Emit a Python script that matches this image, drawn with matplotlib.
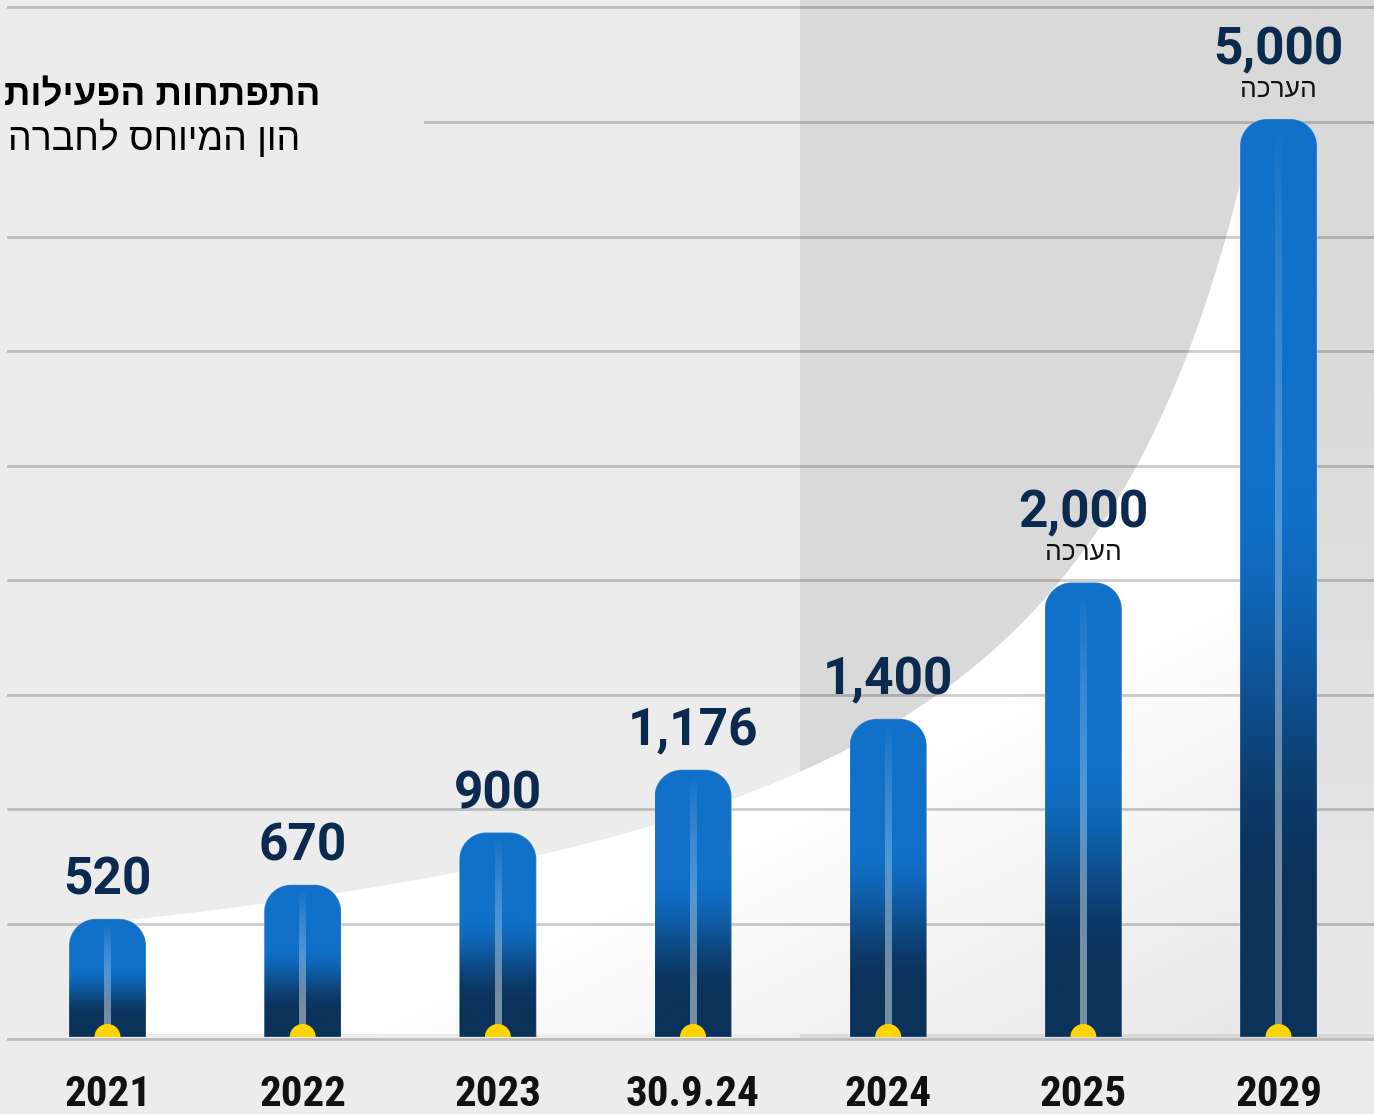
import numpy as np
import matplotlib
matplotlib.use("Agg")
import matplotlib.pyplot as plt
from matplotlib.patches import PathPatch, Rectangle, Polygon
from matplotlib.path import Path
from matplotlib import font_manager

# ---------------- data ----------------
categories = ["2021", "2022", "2023", "30.9.24", "2024", "2025", "2029"]
values = [520, 670, 900, 1176, 1400, 2000, 5000]
is_estimate = [False, False, False, False, False, True, True]
value_labels = ["520", "670", "900", "1,176", "1,400", "2,000", "5,000"]
estimate_label = "הערכה"
title = "התפתחות הפעילות"
subtitle = "הון המיוחס לחברה"

# ---------------- layout ----------------
W, H, DPI = 1374, 1114, 100
BASE = 1037          # baseline row (px from top)
PXC = 195.17         # px per category
FIRST = 107.5        # px centre of first category

available = {f.name for f in font_manager.fontManager.ttflist}
def pick(*names):
    for n in names:
        if n in available:
            return n
    return None

num_font = pick("Roboto", "DejaVu Sans")
narrow_font = pick("Liberation Sans Narrow", "Roboto Condensed")
heb_fonts = [f for f in ["Liberation Sans", "DejaVu Sans"] if f in available] or ["DejaVu Sans"]

def rtl(s):
    return s[::-1]

def scale(v):
    v = np.asarray(v, float)
    brk = 2000.0
    return np.where(v <= brk, v / 4.4, brk / 4.4 + (v - brk) * 0.1545)

fig = plt.figure(figsize=(W / DPI, H / DPI), dpi=DPI)
fig.patch.set_facecolor("#ececec")
ax = fig.add_axes([0, 0, 1, 1])
ax.set_facecolor("none")
ax.axis("off")
XL = (-FIRST / PXC, (W - FIRST) / PXC)
YL = (-(H - BASE), BASE)

def px2x(px):
    return (px - FIRST) / PXC

BAR_W = 77 / PXC
last = len(values) - 1

# darker right panel
ax.add_patch(Rectangle((px2x(800), -1), px2x(W + 5) - px2x(800), BASE + 5,
                       facecolor="#d9d9d9", edgecolor="none", zorder=0))

# white growth curve area with soft gradient (ends at the last bar)
x_end = last - BAR_W / 2 + 0.02
xs = np.linspace(0, x_end, 500)
hc = np.clip(-28.8 + 994.0 / (6.93 - xs), 0, BASE)
poly_pts = [(0, 3)] + list(zip(xs, hc)) + [(x_end, 3)]
wpoly = Polygon(poly_pts, closed=True, facecolor="none", edgecolor="none")
ax.add_patch(wpoly)
gx = np.linspace(0, x_end, 300)
gy = np.linspace(BASE, 3, 300)
GX, GY = np.meshgrid(gx, gy)
xp = FIRST + GX * PXC
yp = BASE - GY
d = np.clip(0.8 * (0.033 * (xp - 1021) + 0.067 * (yp - 700)), 0, 24)
c = (255 - d) / 255.0
img = np.dstack([c, c, c])
im = ax.imshow(img, extent=(0, x_end, 3, BASE), origin="upper", aspect="auto",
               zorder=1, interpolation="bilinear")
im.set_clip_path(wpoly)

# right strip beside the last bar: soft vertical gradient
ry = np.linspace(BASE, 3, 200)
rc = (217 + 15 * np.clip(((BASE - ry) - 300) / 730, 0, 1)) / 255.0
rimg = np.repeat(rc[:, None], 3, axis=1)[:, None, :]
ax.imshow(rimg, extent=(last, XL[1] + 0.1, 3, BASE), origin="upper", aspect="auto",
          zorder=1, interpolation="bilinear")

# gridlines
GRID0, GSTEP = -1.5, 114.56
for k in range(10):
    xmin = 425 / W if k == 8 else 8 / W
    ax.axhline(GRID0 + k * GSTEP, xmin=xmin, xmax=1, color="black", alpha=0.2,
               lw=2, zorder=2)

# bars
R = 27
bright = np.array([17, 112, 200]) / 255.0
dark = np.array([11, 50, 91]) / 255.0

def bar_path(xc, w, h, r):
    rx = r / PXC
    ry = min(r, h / 2)
    xl, xr = xc - w / 2, xc + w / 2
    t1 = np.linspace(np.pi, np.pi / 2, 20)
    t2 = np.linspace(np.pi / 2, 0, 20)
    pts = [(xl, 0), (xl, h - ry)]
    pts += [(xl + rx + rx * np.cos(t), h - ry + ry * np.sin(t)) for t in t1]
    pts += [(xr - rx + rx * np.cos(t), h - ry + ry * np.sin(t)) for t in t2]
    pts += [(xr, 0), (xl, 0)]
    codes = [Path.MOVETO] + [Path.LINETO] * (len(pts) - 2) + [Path.CLOSEPOLY]
    return Path(pts, codes)

heights = scale(values)
for i, (h, lab, est) in enumerate(zip(heights, value_labels, is_estimate)):
    path = bar_path(i, BAR_W, h, R)
    clip = PathPatch(path, facecolor="none", edgecolor="none")
    ax.add_patch(clip)
    f = np.linspace(0, 1, 400)
    t = np.clip((f - 0.4) / 0.45, 0, 1)
    t = t * t * (3 - 2 * t)
    cols = bright[None, :] * (1 - t[:, None]) + dark[None, :] * t[:, None]
    gimg = cols[:, None, :]
    bim = ax.imshow(gimg, extent=(i - BAR_W / 2, i + BAR_W / 2, 0, h),
                    origin="upper", aspect="auto", zorder=3, interpolation="bilinear")
    bim.set_clip_path(clip)
    ax.add_patch(PathPatch(path, facecolor="none", edgecolor=(1, 1, 1, 0.18),
                           lw=1.0, zorder=4))
    # centre highlight line
    a = np.linspace(0.0, 0.45, 300) ** 0.8
    limg = np.zeros((300, 1, 4))
    limg[:, 0, :3] = 1.0
    limg[:, 0, 3] = np.clip(a, 0, 0.45)
    lw_ = 3.2 / PXC
    ax.imshow(limg, extent=(i - lw_, i + lw_, 0, h - 6), origin="upper",
              aspect="auto", zorder=4, interpolation="bilinear")
    # yellow knob
    th = np.linspace(0, np.pi, 40)
    ax.add_patch(Polygon(np.column_stack([i + 13 / PXC * np.cos(th), 13 * np.sin(th)]),
                         closed=True, facecolor="#ffd400", edgecolor="none", zorder=5))
    # value labels
    if est:
        ax.text(i, h + 55, lab, ha="center", va="baseline", fontsize=37,
                fontweight="bold", color="#0c2a4f", family=num_font, zorder=6)
        ax.text(i, h + 22, rtl(estimate_label), ha="center", va="baseline",
                fontsize=19, color="#111111", family=heb_fonts, zorder=6)
    else:
        ax.text(i, h + 24, lab, ha="center", va="baseline", fontsize=37,
                fontweight="bold", color="#0c2a4f", family=num_font, zorder=6)

# category labels
for i, cat in enumerate(categories):
    if narrow_font:
        ax.text(i, -(1106 - BASE), cat, ha="center", va="baseline", fontsize=31,
                fontweight="bold", color="#111111", family=narrow_font)
    else:
        ax.text(i, -(1106 - BASE), cat, ha="center", va="baseline", fontsize=29,
                fontweight="bold", color="#111111", family=num_font)

# titles
fig.text(320 / W, 1 - 106 / H, rtl(title), ha="right", va="baseline", fontsize=26.5,
         fontweight="bold", color="#000000", family=heb_fonts)
fig.text(300 / W, 1 - 150 / H, rtl(subtitle), ha="right", va="baseline", fontsize=27,
         color="#000000", family=heb_fonts)

ax.set_xlim(*XL)
ax.set_ylim(*YL)
fig.savefig("out.png", dpi=DPI, facecolor=fig.get_facecolor())
